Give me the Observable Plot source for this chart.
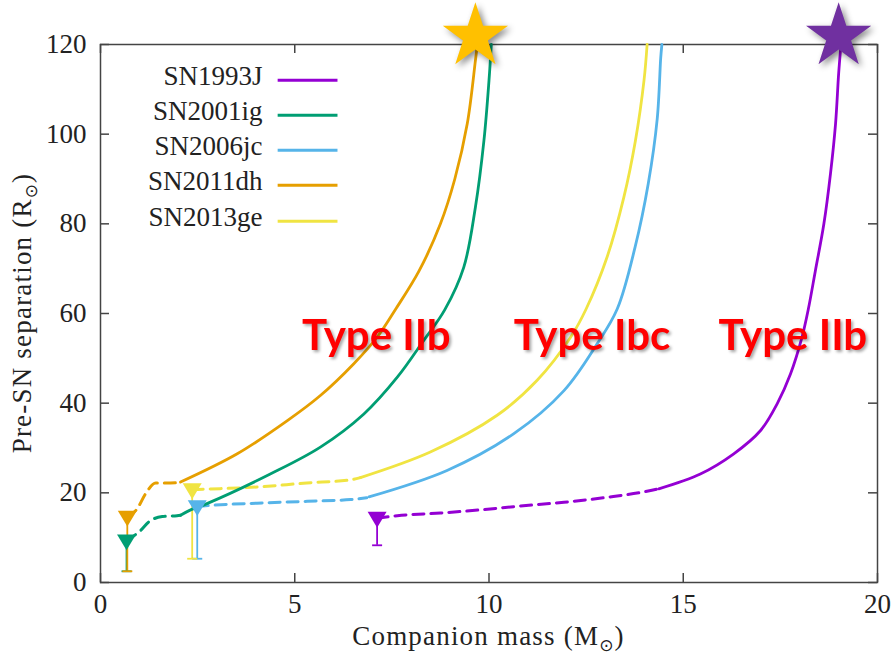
<!DOCTYPE html>
<html><head><meta charset="utf-8">
<script src="https://cdn.jsdelivr.net/npm/d3@7"></script>
<script src="https://cdn.jsdelivr.net/npm/@observablehq/plot@0.6"></script>
<style>body{margin:0;background:#fff}</style>
</head><body><div id="chart"></div>
<script>
// ---- data ----
const seriesNames = ["SN1993J", "SN2001ig", "SN2006jc", "SN2011dh", "SN2013ge"];
const seriesColors = ["#9400D3", "#009E73", "#56B4E9", "#E69F00", "#F0E442"];

const sn1993jDashed = [[7.12,14.35],[7.64,14.9],[8.75,15.5],[9.78,16.2],[10.73,17.0],[11.93,17.9],[13.04,19.0],[14.16,20.5],[14.37,20.9]];
const sn1993jSolid  = [[14.37,20.9],[15.44,24.2],[16.30,28.7],[16.99,33.9],[17.42,39.9],[17.76,46.5],[18.05,54.5],[18.22,61.0],[18.40,69.5],[18.62,80.0],[18.79,91.2],[18.92,102.3],[19.0,113.5],[19.06,120]];

const sn2001igDashed = [[0.67,9.3],[1.03,11.6],[1.24,13.5],[1.59,14.7],[1.97,14.9],[2.06,15.0]];
const sn2001igSolid  = [[2.06,15.0],[2.32,16.2],[2.74,17.6],[4.37,24.2],[5.66,30.2],[6.78,37.6],[7.64,45.8],[8.32,54.0],[8.86,60.8],[9.35,70.3],[9.65,83.7],[9.87,98.6],[10.0,112],[10.06,120]];

const sn2006jcDashed = [[2.49,16.95],[2.83,17.2],[4.03,17.7],[5.32,18.1],[6.44,18.5],[6.85,18.9]];
const sn2006jcSolid  = [[6.91,19.1],[8.92,25.0],[10.64,33.2],[11.93,42.8],[12.78,53.2],[13.30,61.0],[13.76,74.8],[14.10,89.0],[14.33,103.4],[14.42,117],[14.45,120]];

const sn2011dhDashed = [[0.69,14.6],[0.94,16.4],[1.16,19.8],[1.42,22.2],[1.80,22.2],[2.06,22.3]];
const sn2011dhSolid  = [[2.06,22.4],[3.52,28.7],[4.81,36.1],[5.66,41.7],[6.52,48.8],[7.12,54.7],[7.60,61.0],[8.20,69.5],[8.75,80.0],[9.12,90.0],[9.44,102.3],[9.65,116.4],[9.70,120]];

const sn2013geDashed = [[2.36,20.7],[2.65,20.8],[4.03,21.3],[5.31,22.2],[6.44,22.9],[6.69,23.4]];
const sn2013geSolid  = [[6.69,23.4],[8.49,29.1],[10.21,37.3],[11.24,45.1],[12.10,54.7],[12.50,61.0],[13.04,72.6],[13.47,85.9],[13.77,98.6],[13.99,112],[14.07,120]];

const dashedSets = [sn1993jDashed, sn2001igDashed, sn2006jcDashed, sn2011dhDashed, sn2013geDashed];
const solidSets  = [sn1993jSolid, sn2001igSolid, sn2006jcSolid, sn2011dhSolid, sn2013geSolid];

// markers (inverted triangles) with lower error bars
const markerX   = [7.12, 0.67, 2.49, 0.69, 2.36];
const markerY   = [14.35, 9.3, 16.95, 14.6, 20.7];
const errorLow  = [8.3, 2.5, 5.3, 2.5, 5.3];

// stars
const starX = [9.65, 19.0];
const starY = [121.8, 121.8];
const starColors = ["#FFC000", "#7030A0"];

// type annotations
const typeLabels = ["Type IIb", "Type Ibc", "Type IIb"];
const typeX = [7.10, 12.65, 17.82];
const typeY = [51.75, 51.75, 51.75];

// ticks
const xTicks = [0, 5, 10, 15, 20];
const yTicks = [0, 20, 40, 60, 80, 100, 120];

// legend rows (in data units)
const legendY = [112.0, 104.2, 96.4, 88.6, 80.6];
const legendTextX = 4.17, legendLineX1 = 4.56, legendLineX2 = 6.10;

// ---- build tables ----
const toRows = (sets) => sets.flatMap((pts, i) => pts.map(([x, y]) => ({name: seriesNames[i], x, y})));
const dashedRows = toRows(dashedSets);
const solidRows = toRows(solidSets);
const markerRows = seriesNames.map((name, i) => ({name, x: markerX[i], y: markerY[i], low: errorLow[i]}));
const drawOrder = ["SN2001ig", "SN2011dh", "SN2006jc", "SN2013ge", "SN1993J"];
markerRows.sort((a, b) => drawOrder.indexOf(a.name) - drawOrder.indexOf(b.name));
const starRows = starX.map((x, i) => ({x, y: starY[i], c: starColors[i]}));
const typeRows = typeLabels.map((t, i) => ({t, x: typeX[i], y: typeY[i]}));
const legendRows = seriesNames.map((name, i) => ({name, y: legendY[i]}));

const W = 892, H = 659, mL = 100, mR = 15, mT = 44, mB = 77;
const plotW = W - mL - mR, plotH = H - mT - mB;
const tickLen = 9;
const axisColor = "#444";
const serif = "'Liberation Serif', 'Times New Roman', serif";

const invTriangle = {draw(ctx, size) {
  const r = Math.sqrt(size / Math.PI);
  ctx.moveTo(-r, -0.67 * r); ctx.lineTo(r, -0.67 * r); ctx.lineTo(0, r); ctx.closePath();
}};
const capSymbol = {draw(ctx, size) {
  const r = Math.sqrt(size / Math.PI);
  ctx.moveTo(-r, 0); ctx.lineTo(r, 0);
}};

const plot = Plot.plot({
  width: W, height: H,
  marginLeft: mL, marginRight: mR, marginTop: mT, marginBottom: mB,
  style: {fontFamily: serif, fontSize: "27px", color: "#222", background: "#fff"},
  x: {domain: [0, 20], label: null},
  y: {domain: [0, 120], label: null},
  color: {domain: seriesNames, range: seriesColors},
  marks: [
    Plot.frame({stroke: axisColor, strokeWidth: 1.5}),
    Plot.tickX(xTicks, {x: d => d, insetTop: plotH - tickLen, stroke: axisColor, strokeWidth: 1.5}),
    Plot.tickX(xTicks, {x: d => d, insetBottom: plotH - tickLen, stroke: axisColor, strokeWidth: 1.5}),
    Plot.tickY(yTicks, {y: d => d, insetRight: plotW - tickLen, stroke: axisColor, strokeWidth: 1.5}),
    Plot.tickY(yTicks, {y: d => d, insetLeft: plotW - tickLen, stroke: axisColor, strokeWidth: 1.5}),
    Plot.axisX({ticks: xTicks, tickSize: 0, tickPadding: 11, fontSize: 27, fontFamily: serif, fill: "#222", label: null}),
    Plot.axisY({ticks: yTicks, tickSize: 0, tickPadding: 14, fontSize: 27, fontFamily: serif, fill: "#222", label: null}),
    // error bars
    Plot.ruleX(markerRows, {x: "x", y1: "y", y2: "low", stroke: "name", strokeWidth: 1.8}),
    Plot.dot(markerRows, {x: "x", y: "low", symbol: capSymbol, r: 5, fill: "none", stroke: "name", strokeWidth: 1.8}),
    // curves
    Plot.line(dashedRows, {x: "x", y: "y", z: "name", stroke: "name", strokeWidth: 3, strokeDasharray: "11,7", curve: "monotone-x"}),
    Plot.line(solidRows, {x: "x", y: "y", z: "name", stroke: "name", strokeWidth: 2.8, curve: "catmull-rom"}),
    // markers
    Plot.dot(markerRows, {x: "x", y: "y", symbol: invTriangle, r: 9.5, fill: "name", stroke: "none"}),
    // legend
    Plot.text(legendRows, {x: () => legendTextX, y: "y", text: "name", textAnchor: "end", lineAnchor: "middle", dy: -4, fontSize: 27, fontFamily: serif, fill: "#222"}),
    Plot.link(legendRows, {x1: () => legendLineX1, x2: () => legendLineX2, y1: "y", y2: "y", stroke: "name", strokeWidth: 3}),
    // stars
    Plot.dot(starRows, {x: "x", y: "y", symbol: "star", r: 20.5, fill: "c", stroke: "none", clip: false}),
    // type labels
    Plot.text(typeRows, {x: "x", y: "y", text: "t", fill: "#FF0000", fontSize: 42, fontWeight: 700, fontFamily: "Lato, 'Open Sans', sans-serif", lineAnchor: "bottom", textAnchor: "middle"})
  ]
});

// axis titles with subscript sun symbol
const svg = d3.select(plot);
svg.style("font-family", serif);
const xs = plot.scale("x"), ys = plot.scale("y");
const xMid = (xs.range[0] + xs.range[1]) / 2;
const yMid = (ys.range[0] + ys.range[1]) / 2;
const xl = svg.append("text").attr("x", xMid).attr("y", H - 14).attr("text-anchor", "middle")
  .attr("font-size", 27).attr("font-family", serif).attr("fill", "#222").attr("letter-spacing", 1.2);
xl.append("tspan").text("Companion mass (M");
xl.append("tspan").text("\u2299").attr("font-size", 17).attr("dy", 6).attr("font-family", "DejaVu Sans");
xl.append("tspan").text(")").attr("dy", -6);
const yl = svg.append("text").attr("transform", `translate(31,${yMid}) rotate(-90)`).attr("text-anchor", "middle")
  .attr("font-size", 27).attr("font-family", serif).attr("fill", "#222").attr("letter-spacing", 1.2);
yl.append("tspan").text("Pre-SN separation (R");
yl.append("tspan").text("\u2299").attr("font-size", 17).attr("dy", 6).attr("font-family", "DejaVu Sans");
yl.append("tspan").text(")").attr("dy", -6);

// shadows on stars and annotation text
plot.querySelectorAll("[fill]").forEach(el => {
  const f = (el.getAttribute("fill") || "").toLowerCase();
  if (f === "#ffc000" || f === "#7030a0") el.style.filter = "drop-shadow(3px 3px 3px rgba(0,0,0,0.45))";
  if (f === "#ff0000") el.style.filter = "drop-shadow(2px 2px 1.5px rgba(0,0,0,0.35))";
});

document.getElementById("chart").appendChild(plot);
</script>
</body></html>
